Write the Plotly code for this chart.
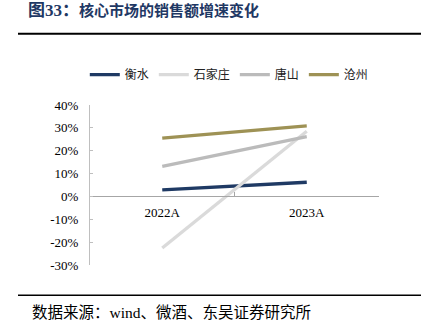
import plotly.graph_objects as go

categories = ["2022A", "2023A"]
series_names = ["衡水", "石家庄", "唐山", "沧州"]
hengshui = [0.029, 0.062]
shijiazhuang = [-0.226, 0.285]
tangshan = [0.132, 0.262]
cangzhou = [0.255, 0.309]
y_ticks = [-0.3, -0.2, -0.1, 0.0, 0.1, 0.2, 0.3, 0.4]
y_tick_labels = ["-30%", "-20%", "-10%", "0%", "10%", "20%", "30%", "40%"]

colors = ["#1F3A64", "#DADADA", "#BBBBBB", "#9E9255"]
values = [hengshui, shijiazhuang, tangshan, cangzhou]

FONT = "Liberation Serif, Times New Roman, Noto Sans CJK SC, serif"

fig = go.Figure()
for name, vals, col in zip(series_names, values, colors):
    fig.add_trace(go.Scatter(x=categories, y=vals, mode="lines", name=name,
                             line=dict(color=col, width=3.3)))

fig.update_layout(
    width=436, height=331,
    margin=dict(l=90, r=57, t=105, b=66),
    paper_bgcolor="white", plot_bgcolor="white",
    font=dict(family=FONT, size=13, color="#000000"),
    showlegend=True,
    legend=dict(orientation="h", x=0.482, xanchor="center", y=1.19, yanchor="middle",
                font=dict(family="Noto Sans CJK SC, sans-serif", size=12, color="#222"),
                bgcolor="rgba(0,0,0,0)", itemwidth=30, tracegroupgap=0),
    title=dict(text="<b><span style='font-size:17px'>图33：</span>核心市场的销售额增速变化</b>",
               xref="container", yref="container",
               x=28/436, xanchor="left", y=1-11/331, yanchor="middle",
               font=dict(family="Liberation Serif, Noto Sans CJK SC", size=15, color="#1F3864")),
    xaxis=dict(type="category", range=[-0.5, 1.5], anchor="free", position=3/7,
               showline=True, linecolor="#A6A6A6", linewidth=1,
               ticks="inside", tickson="boundaries", ticklen=4, tickcolor="#A6A6A6",
               showgrid=False, zeroline=False, ticklabelstandoff=4,
               tickfont=dict(family=FONT, size=13, color="#000")),
    yaxis=dict(range=[-0.3, 0.4], tickvals=y_ticks, ticktext=y_tick_labels,
               showline=True, linecolor="#BFBFBF", linewidth=1,
               ticks="inside", ticklen=3, tickcolor="#BFBFBF",
               showgrid=False, zeroline=False, ticklabelstandoff=8,
               tickfont=dict(family=FONT, size=13, color="#000")),
    shapes=[
        dict(type="line", xref="paper", yref="paper", x0=-72/289, x1=331/289,
             y0=(264.7-33.5)/160, y1=(264.7-33.5)/160, line=dict(color="#000", width=2)),
        dict(type="line", xref="paper", yref="paper", x0=-72/289, x1=331/289,
             y0=(264.7-295)/160, y1=(264.7-295)/160, line=dict(color="#000", width=1.5)),
    ],
    annotations=[
        dict(text="数据来源：wind、微酒、东吴证券研究所", xref="paper", yref="paper",
             x=-60/289, xanchor="left", y=(264.7-312.5)/160, yanchor="middle", showarrow=False,
             font=dict(family="Liberation Serif, Noto Sans CJK SC", size=15.5, color="#000")),
    ],
)

fig.write_html("out.html")
